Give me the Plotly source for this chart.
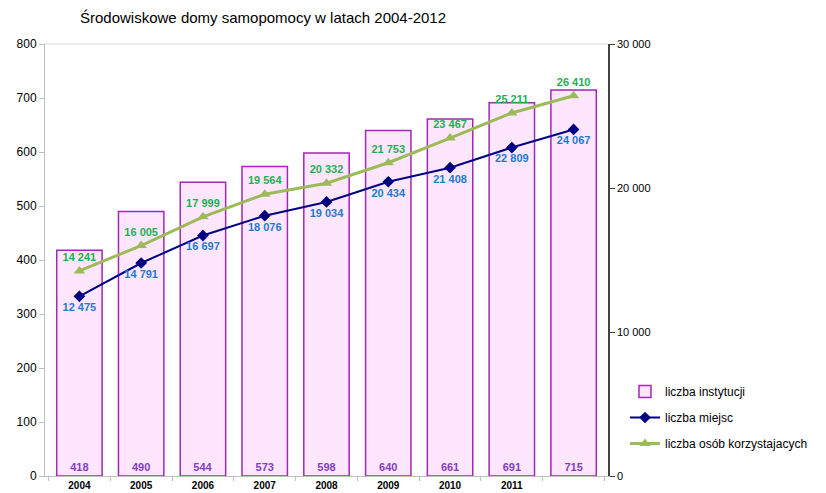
import plotly.graph_objects as go

years = ["2004", "2005", "2006", "2007", "2008", "2009", "2010", "2011", "2012"]
tick_labels = ["2004", "2005", "2006", "2007", "2008", "2009", "2010", "2011", ""]
institutions = [418, 490, 544, 573, 598, 640, 661, 691, 715]
places = [12475, 14791, 16697, 18076, 19034, 20434, 21408, 22809, 24067]
users = [14241, 16005, 17999, 19564, 20332, 21753, 23467, 25211, 26410]

def fmt(v):
    return f"{v:,}".replace(",", " ")

FONT = "Liberation Sans, Arial, sans-serif"
W, H = 818, 485

fig = go.Figure()
fig.add_trace(go.Bar(
    x=years, y=institutions, name="liczba instytucji", legendgroup="a",
    marker=dict(color="#FFE6FF", line=dict(color="#A028B4", width=1.5)),
    text=[str(v) for v in institutions], textposition="inside",
    insidetextanchor="start", textangle=0,
    textfont=dict(color="#7F3FBF", size=11, family=FONT, weight="bold"),
    cliponaxis=False,
))
fig.add_trace(go.Scatter(
    x=years, y=places, name="liczba miejsc", yaxis="y2", legendgroup="b",
    mode="lines+markers+text",
    line=dict(color="#000080", width=2),
    marker=dict(symbol="diamond", size=9, color="#000080"),
    text=[fmt(v) for v in places], textposition="bottom center",
    textfont=dict(color="#1F7ACF", size=11, family=FONT, weight="bold"),
))
fig.add_trace(go.Scatter(
    x=years, y=users, name="liczba osób korzystajacych", yaxis="y2", legendgroup="c",
    mode="lines+markers+text",
    line=dict(color="#9BBB59", width=3),
    marker=dict(symbol="triangle-up", size=10, color="#9BBB59"),
    text=[fmt(v) for v in users], textposition="top center",
    textfont=dict(color="#1DB050", size=11, family=FONT, weight="bold"),
))

fig.update_layout(
    width=W, height=H,
    margin=dict(l=37, r=218, t=36, b=17, autoexpand=False),
    paper_bgcolor="white", plot_bgcolor="white",
    font=dict(family=FONT, color="black"),
    title=dict(text="Środowiskowe domy samopomocy w latach 2004-2012",
               x=72/W, xanchor="left", y=1-10/H, yanchor="middle",
               font=dict(size=15, family=FONT, color="black")),
    bargap=0.265,
    showlegend=True,
    legend=dict(xref="container", yref="container",
                x=617/W, xanchor="left", y=1-369/H, yanchor="top",
                font=dict(size=12, family=FONT), tracegroupgap=7,
                itemwidth=30, traceorder="grouped",
                bgcolor="rgba(0,0,0,0)"),
    xaxis=dict(tickmode="array", tickvals=years, ticktext=tick_labels,
               tickfont=dict(size=10, family=FONT, weight="bold"),
               showline=True, linecolor="#BFBFBF", linewidth=1,
               ticks="outside", tickcolor="#BFBFBF", ticklen=4,
               tickson="boundaries", showgrid=False, mirror=False,
               automargin=False),
    yaxis=dict(range=[0, 800], dtick=100, showgrid=False,
               showline=True, linecolor="#BFBFBF", linewidth=1,
               ticks="outside", tickcolor="#BFBFBF", ticklen=5,
               tickfont=dict(size=12, family=FONT), zeroline=False,
               automargin=False),
    yaxis2=dict(range=[0, 30000], tickvals=[0, 10000, 20000, 30000],
                ticktext=["0", "10 000", "20 000", "30 000"],
                overlaying="y", side="right", showgrid=False,
                showline=True, linecolor="#404040", linewidth=1.5,
                ticks="outside", tickcolor="#404040", ticklen=5,
                tickfont=dict(size=11, family=FONT), zeroline=False,
                automargin=False),
    shapes=[dict(type="line", xref="paper", yref="paper", x0=0, x1=1, y0=1, y1=1,
                 line=dict(color="#D9D9D9", width=1))],
)

fig.write_html("out.html")
